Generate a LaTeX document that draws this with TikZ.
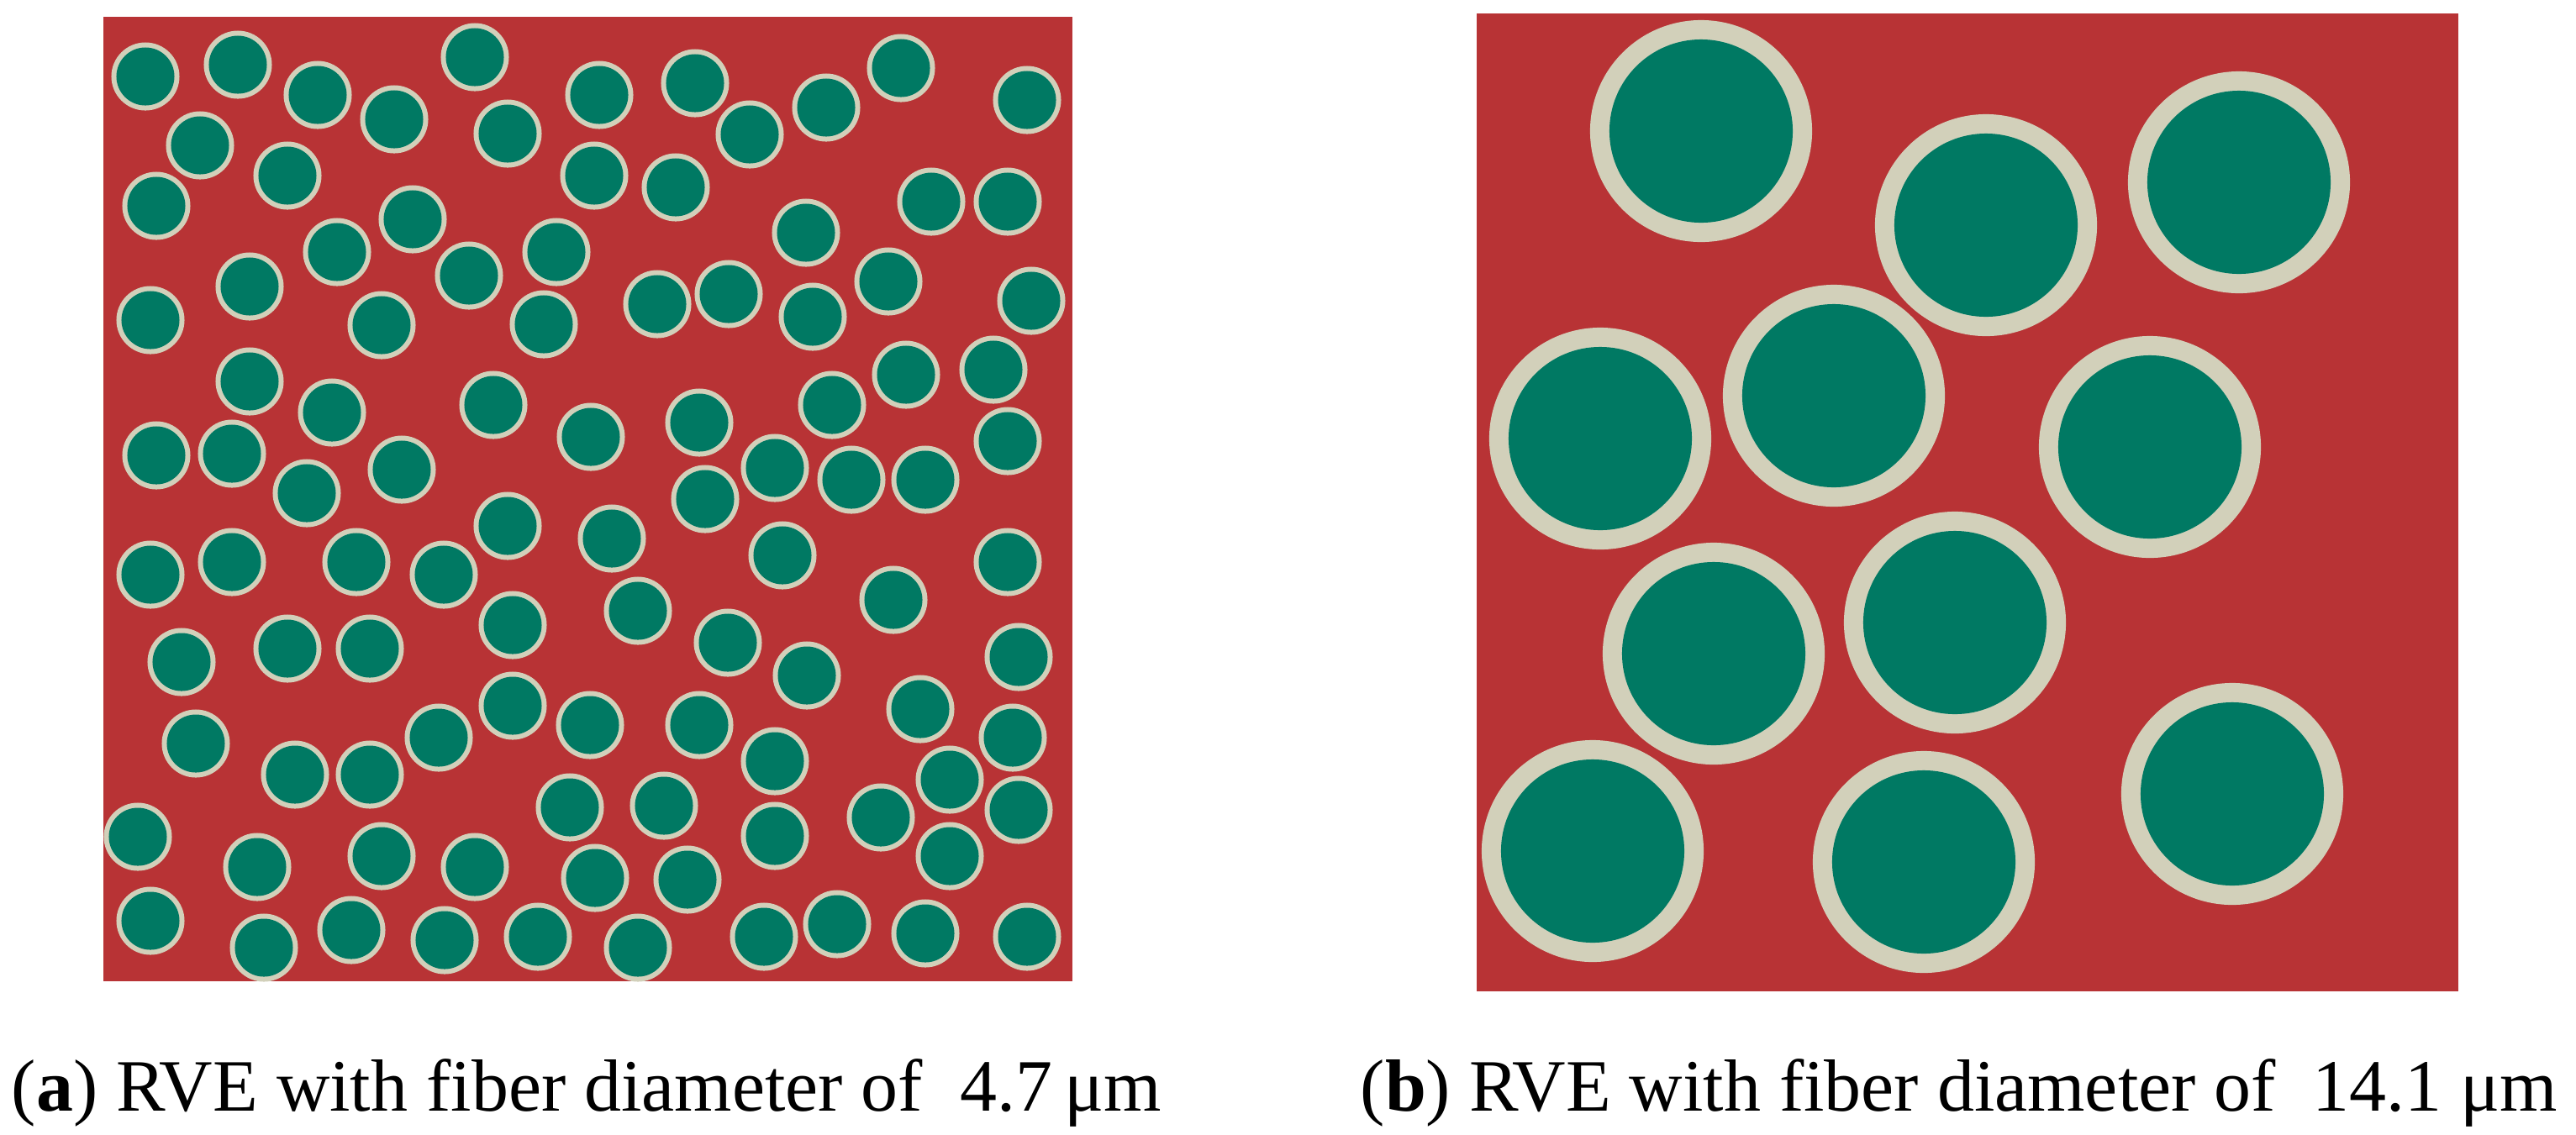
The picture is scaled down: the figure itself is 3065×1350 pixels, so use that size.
\documentclass[tikz,border=0pt]{standalone}
\usepackage{fontspec}
\setmainfont{Liberation Serif}
\definecolor{matrixred}{RGB}{184,51,53}
\definecolor{fibergreen}{RGB}{0,121,99}
\definecolor{interbeige}{RGB}{210,208,186}
\tikzset{
  panel/.style={fill=matrixred},
  ringa/.style={fill=interbeige},
  corea/.style={fill=fibergreen},
  caption/.style={anchor=base, inner sep=0pt, font=\fontsize{25}{30}\selectfont}
}
\newcommand{\smallfibers}{173/91,283/77,378/113,469/142,565/68,238/173,604/159,342/209,186/245,491/261,401/300,558/328,662/300,297/341,179/381,454/387,647/386,297/454,395/491,587/482,186/542,276/540,478/559,365/587,
713/113,827/99,892/160,983/128,1072/81,1222/119,707/209,804/223,959/277,1108/240,1199/240,782/362,867/350,967/377,1057/335,1227/358,1078/446,1182/440,990/482,832/503,703/520,1199/525,922/557,1013/571,1101/571,839/594,
604/626,179/684,276/669,424/669,528/684,610/744,216/788,342/772,440/772,610/840,522/878,233/885,351/922,440/922,164/996,306/1032,454/1019,565/1032,179/1096,314/1128,418/1107,529/1119,640/1115,
728/641,931/661,1199/669,759/727,1063/714,866/765,960/804,1212/782,702/863,832/863,1095/844,1205/878,922/906,1130/928,678/961,790/959,1048/973,1212/964,922/995,1130/1019,708/1045,818/1047,759/1128,909/1115,996/1100,1101/1111,1222/1115}
\newcommand{\largefibers}{2024/156,2363/268,2182/471,1904/522,2664/217,2558/532,2039/778,2326/741,1895/1013,2289/1026,2656/945}
\begin{document}
\begin{tikzpicture}[x=0.01cm, y=-0.01cm]
  \useasboundingbox (0,0) rectangle (3065,1350);
  \fill[white] (0,0) rectangle (3065,1350);
  % panel (a)
  \fill[panel] (123,20) rectangle (1276,1168);
  \foreach \px/\py in \smallfibers { \fill[ringa] (\px,\py) circle (0.405cm); }
  \foreach \px/\py in \smallfibers { \fill[corea] (\px,\py) circle (0.345cm); }
  % panel (b)
  \fill[panel] (1757,16) rectangle (2925,1180);
  \foreach \px/\py in \largefibers { \fill[ringa] (\px,\py) circle (1.32cm); }
  \foreach \px/\py in \largefibers { \fill[corea] (\px,\py) circle (1.09cm); }
  % captions
  \node[caption] (capa) at (698,1322) {(\textbf{a}) RVE with fiber diameter of~~4.7\,μm};
  \node[caption] (capb) at (2331,1322) {(\textbf{b}) RVE with fiber diameter of~~14.1 μm};
\end{tikzpicture}
\end{document}
